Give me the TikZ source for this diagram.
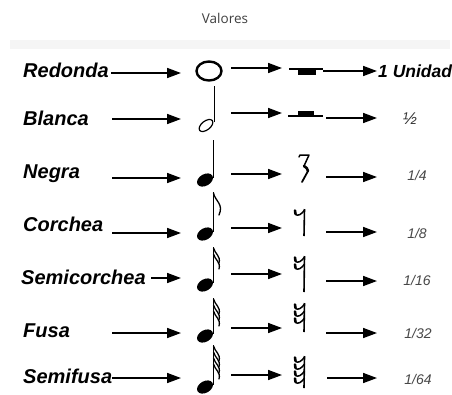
\documentclass[tikz,border=0pt]{standalone}
\usepackage{fontspec}
\setmainfont{Liberation Sans}
\newfontfamily\titlefont{Open Sans}
\usetikzlibrary{arrows.meta}
\tikzset{
  lbl/.style={anchor=base west, inner sep=0pt, font=\fontsize{20}{22}\selectfont\bfseries\itshape},
  frac/.style={anchor=base, inner sep=0pt, text=black!72, font=\fontsize{14}{16}\selectfont\itshape},
  arr/.style={line width=1.6pt, -{Triangle[length=14pt,width=10pt]}},
  symline/.style={line width=1.4pt},
  flagline/.style={line width=1.3pt, line cap=round},
}
\begin{document}
\begin{tikzpicture}[x=1pt,y=-1pt]
\useasboundingbox (0,0) rectangle (452,394);
\fill[white] (0,0) rectangle (452,394);
\fill[black!4] (10,40) rectangle (450,49);
\node[inner sep=0pt, text=black!75, font=\titlefont\fontsize{13.5}{16}\selectfont] (title) at (225,18) {Valores};

% labels
\node[lbl] (l1) at (23,77.5) {Redonda};
\node[lbl] (l2) at (23,125) {Blanca};
\node[lbl] (l3) at (23,178) {Negra};
\node[lbl] (l4) at (23,231) {Corchea};
\node[lbl] (l5) at (21,284) {Semicorchea};
\node[lbl] (l6) at (23,337) {Fusa};
\node[lbl] (l7) at (23,383) {Semifusa};

% values
\node[lbl, font=\fontsize{17.5}{20}\selectfont\bfseries\itshape] (v1) at (378,77) {1 Unidad};
\node[frac, text=black!80, font=\fontsize{17}{19}\selectfont\itshape] (v2) at (410,124) {½};
\node[frac] (v3) at (417,180) {1/4};
\node[frac] (v4) at (417,238) {1/8};
\node[frac] (v5) at (417,285) {1/16};
\node[frac] (v6) at (418,338) {1/32};
\node[frac] (v7) at (418,384) {1/64};

% arrows
\foreach \i/\xa/\ya/\yb/\xc/\yc in {1/111/73/68/323/71, 2/112/119/113/326/118, 3/112/178/174/326/177,
   4/112/233/228/326/232, 5/151/278/274/326/281, 6/112/333/328/326/333, 7/112/378/375/327/378}{
  \coordinate (p\i) at (\xa,\ya);
  \coordinate (q\i) at (181,\ya);
  \draw[arr] (p\i) -- (q\i);
  \coordinate (r\i) at (231,\yb);
  \coordinate (s\i) at (282,\yb);
  \draw[arr] (r\i) -- (s\i);
  \coordinate (t\i) at (\xc,\yc);
  \coordinate (u\i) at (377,\yc);
  \draw[arr] (t\i) -- (u\i);
}

% whole note
\draw[line width=2.4pt] (209,71) ellipse [x radius=12.5, y radius=9.5];
% half note
\draw[line width=1.2pt] (206,125.5) ellipse [x radius=8, y radius=4.4, rotate=38];
\draw[symline] (214.5,122) -- (214.5,86);
% filled notes
\foreach \y/\top in {180/140, 234/192, 285/247, 336/298, 387/345}{
  \fill (205,\y) ellipse [x radius=8.6, y radius=5.8, rotate=30];
  \draw[symline] (213.2,\y-2) -- (213.2,\top);
}
% flags
\draw[flagline] (213.5,193) .. controls (215,201) and (224,204) .. (219,215);
\foreach \k in {0,1}{\draw[flagline] (213.5,248+6*\k) .. controls (215,254+6*\k) and (221,256+6*\k) .. (219,263+6*\k);}
\foreach \k in {0,1,2}{\draw[flagline] (213.5,299+6*\k) .. controls (215,305+6*\k) and (221,307+6*\k) .. (219,314+6*\k);}
\foreach \k in {0,1,2,3}{\draw[flagline] (213.5,346+6*\k) .. controls (215,352+6*\k) and (221,354+6*\k) .. (219,361+6*\k);}

% rests
\draw[line width=1.2pt] (289,69) -- (323,69);
\fill (298,69) rectangle (316,74.5);
\draw[line width=1.2pt] (288,116) -- (323,116);
\fill (298,110.5) rectangle (314,116);
% quarter rest
\draw[line width=1.5pt, line join=round, line cap=round] (299,157) -- (300,155) -- (309,155) -- (304,166);
\draw[line width=2.6pt, line cap=round] (304,166) .. controls (307,168) .. (308,171);
\draw[line width=1.8pt, line cap=round] (308,171) .. controls (305,176) .. (302,182);
% eighth and smaller rests
\foreach \top/\bot/\n in {209/236/1, 256/292/2, 303/332/3, 356/388/4}{
  \draw[line width=1.6pt] (304.5,\top) -- (304,\bot);
  \foreach \k in {1,...,\n}{
    \draw[line width=2.6pt, line cap=round] (295,\top+1.5+7*\k-7) -- (295.5,\top+5+7*\k-7);
    \draw[line width=1.5pt] (295.5,\top+5.5+7*\k-7) .. controls (298,\top+7.5+7*\k-7) and (302,\top+5+7*\k-7) .. (304.5,\top+1+7*\k-7);
  }
}
\end{tikzpicture}
\end{document}
